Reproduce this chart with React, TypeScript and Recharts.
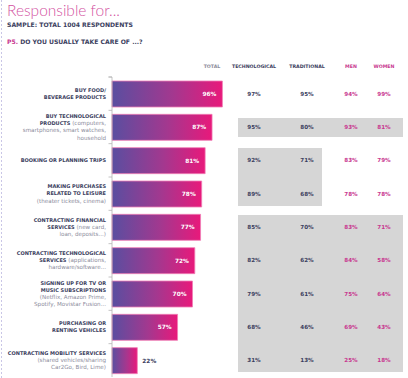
import React from 'react';
import { BarChart, Bar, XAxis, YAxis, LabelList } from 'recharts';

const categories = [
  'BUY FOOD/BEVERAGE PRODUCTS',
  'BUY TECHNOLOGICAL PRODUCTS',
  'BOOKING OR PLANNING TRIPS',
  'MAKING PURCHASES RELATED TO LEISURE',
  'CONTRACTING FINANCIAL SERVICES',
  'CONTRACTING TECHNOLOGICAL SERVICES',
  'SIGNING UP FOR TV OR MUSIC SUBSCRIPTIONS',
  'PURCHASING OR RENTING VEHICLES',
  'CONTRACTING MOBILITY SERVICES',
];

// each line: [bold part, light part]
const labelLines: [string, string][][] = [
  [['BUY FOOD/', ''], ['BEVERAGE PRODUCTS', '']],
  [['BUY TECHNOLOGICAL', ''], ['PRODUCTS', ' (computers,'], ['', 'smartphones, smart watches,'], ['', 'household']],
  [['BOOKING OR PLANNING TRIPS', '']],
  [['MAKING PURCHASES', ''], ['RELATED TO LEISURE', ''], ['', '(theater tickets, cinema)']],
  [['CONTRACTING FINANCIAL', ''], ['SERVICES', ' (new card,'], ['', 'loan, deposits...)']],
  [['CONTRACTING TECHNOLOGICAL', ''], ['SERVICES', ' (applications,'], ['', 'hardware/software...']],
  [['SIGNING UP FOR TV OR', ''], ['MUSIC SUBSCRIPTIONS', ''], ['', '(Netflix, Amazon Prime,'], ['', 'Spotify, Movistar Fusion...']],
  [['PURCHASING OR', ''], ['RENTING VEHICLES', '']],
  [['CONTRACTING MOBILITY SERVICES', ''], ['', '(shared vehicles/sharing'], ['', 'Car2Go, Bird, Lime)']],
];

const totals = [96, 87, 81, 78, 77, 72, 70, 57, 22];
const technological = [97, 95, 92, 89, 85, 82, 79, 68, 31];
const traditional = [95, 80, 71, 68, 70, 62, 61, 46, 13];
const men = [94, 93, 83, 78, 83, 84, 75, 69, 25];
const women = [99, 81, 79, 78, 71, 58, 64, 43, 18];

const columnHeaders = ['TOTAL', 'TECHNOLOGICAL', 'TRADITIONAL', 'MEN', 'WOMEN'];
// highlighted table rows: '' none, 'all' all four columns, 'split' first two columns
const shading = ['', 'all', 'split', 'split', 'all', 'all', 'all', 'all', 'all'];

const title = 'Responsible for...';
const subtitle = 'SAMPLE: TOTAL 1004 RESPONDENTS';
const questionCode = 'P5.';
const question = ' DO YOU USUALLY TAKE CARE OF ...?';

const data = categories.map((c, i) => ({
  category: c,
  total: totals[i],
  technological: technological[i],
  traditional: traditional[i],
  men: men[i],
  women: women[i],
}));

const NAVY = '#3b3e5e';
const PINK = '#c8378f';
const LIGHT = '#8c8c9c';
const FONT = '"DejaVu Sans", sans-serif';
const BAND = 300 / 9;
const COLS = [254, 307, 351, 384];

const RowTick = (props: any) => {
  const y = Number(props.y);
  const i = props.payload?.index ?? props.index ?? 0;
  const lines = labelLines[i];
  const lh = 7.2;
  const y0 = y - ((lines.length - 1) * lh) / 2 + 1.8;
  const s = shading[i];
  let box = null;
  if (s) {
    const start = i === 0 || shading[i - 1] !== s;
    const end = i === shading.length - 1 || shading[i + 1] !== s;
    const single = start && end;
    const pad = single ? 9.5 : 12;
    const top = start ? y - pad : y - BAND / 2 - 0.3;
    const bottom = end ? y + pad : y + BAND / 2 + 0.3;
    const x1 = 238;
    const x2 = s === 'all' ? 403 : 322;
    box = <rect x={x1} y={top} width={x2 - x1} height={bottom - top} fill="#d6d6d6" shapeRendering="crispEdges" />;
  }
  const vals = [technological[i], traditional[i], men[i], women[i]];
  return (
    <g>
      <line x1={108.5} x2={112} y1={y - BAND / 2} y2={y - BAND / 2} stroke="#b5b5b5" strokeWidth={0.8} />
      {lines.map((ln, k) => (
        <text key={k} x={106} y={y0 + k * lh} textAnchor="end" fontFamily={FONT} fontSize={5}>
          {ln[0] ? <tspan fontWeight="bold" fill={NAVY}>{ln[0]}</tspan> : null}
          {ln[1] ? <tspan fill={LIGHT} fontSize={5.6}>{ln[1]}</tspan> : null}
        </text>
      ))}
      {box}
      {vals.map((v, k) => (
        <text key={'v' + k} x={COLS[k]} y={y + 2} textAnchor="middle" fontFamily={FONT} fontSize={5.6}
          fontWeight="bold" fill={k < 2 ? NAVY : PINK}>{v}%</text>
      ))}
    </g>
  );
};

const BarLabel = (p: any) => {
  const x = Number(p.x), y = Number(p.y), w = Number(p.width), h = Number(p.height);
  const inside = w > 40;
  return (
    <text x={inside ? x + w - 6 : x + w + 5} y={y + h / 2 + 2} textAnchor={inside ? 'end' : 'start'}
      fontFamily={FONT} fontSize={5.8} fontWeight="bold" fill={inside ? '#ffffff' : NAVY}>
      {p.value}%
    </text>
  );
};

export default function App() {
  const headerX = [212, 254, 307, 351, 384];
  const headerFill = [LIGHT, NAVY, NAVY, PINK, PINK];
  return (
    <div style={{ position: 'absolute', left: 0, top: 0, width: 408, height: 378, background: '#fff' }}>
      <BarChart width={408} height={378} data={data} layout="vertical"
        margin={{ top: 77, right: 181, bottom: 1, left: 0 }}>
        <defs>
          <linearGradient id="barGrad" x1="0" y1="0" x2="1" y2="0">
            <stop offset="0%" stopColor="#5a4ea0" />
            <stop offset="55%" stopColor="#a3388f" />
            <stop offset="100%" stopColor="#e8197b" />
          </linearGradient>
        </defs>
        <XAxis type="number" domain={[0, 100]} hide />
        <YAxis type="category" dataKey="category" width={112} interval={0}
          axisLine={{ stroke: '#b5b5b5', strokeWidth: 0.8 }} tickLine={false} tick={<RowTick />} />
        <Bar dataKey="total" barSize={26} fill="url(#barGrad)" stroke="#f07db5" strokeWidth={0.8}
          isAnimationActive={false}>
          <LabelList dataKey="total" content={<BarLabel />} />
        </Bar>
      </BarChart>
      <svg width={408} height={378} style={{ position: 'absolute', left: 0, top: 0, pointerEvents: 'none' }}>
        <line x1={1.5} x2={1.5} y1={0} y2={378} stroke="#c9c6e6" strokeWidth={1} strokeDasharray="2 2" />
        <text x={7} y={16} fontFamily='Lato, sans-serif' fontWeight={300} fontSize={15.5} fill="#d3529f">{title}</text>
        <text x={7} y={27.3} fontFamily={FONT} fontWeight="bold" fontSize={6.1} fill={NAVY}>{subtitle}</text>
        <text x={7} y={43.7} fontFamily={FONT} fontWeight="bold" fontSize={6.1} fill={NAVY}>
          <tspan fill={PINK}>{questionCode}</tspan>{question}
        </text>
        {columnHeaders.map((h, k) => (
          <text key={h} x={headerX[k]} y={67.5} textAnchor="middle" fontFamily={FONT} fontWeight="bold"
            fontSize={4.7} fill={headerFill[k]}>{h}</text>
        ))}
        <line x1={108.5} x2={112} y1={77} y2={77} stroke="#b5b5b5" strokeWidth={0.8} />
      </svg>
    </div>
  );
}
